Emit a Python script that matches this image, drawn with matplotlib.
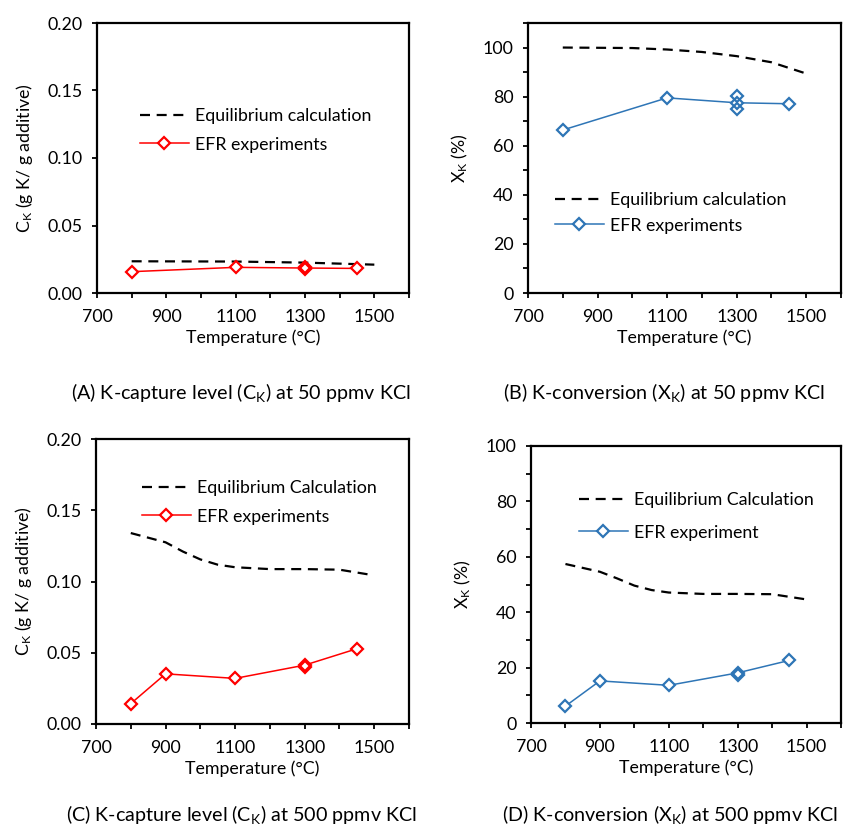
import matplotlib
matplotlib.use("Agg")
import matplotlib.pyplot as plt
from matplotlib.ticker import MultipleLocator, FixedLocator, FormatStrFormatter

plt.rcParams['font.family'] = ['Lato', 'DejaVu Sans']
plt.rcParams['mathtext.fontset'] = 'custom'
plt.rcParams['mathtext.rm'] = 'Lato'
plt.rcParams['mathtext.it'] = 'Lato:italic'

RED = '#ff0000'
BLUE = '#2e75b6'

# ---- data ----
# (A) 50 ppmv, capture level
a_eq_t = [800, 1100, 1300, 1500]
a_eq_c = [0.0235, 0.0233, 0.0225, 0.0210]
a_exp_t = [800, 1100, 1300, 1450]
a_exp_c = [0.0158, 0.0190, 0.0185, 0.0182]
a_rep_t = [1300, 1300]
a_rep_c = [0.0190, 0.0178]

# (B) 50 ppmv, conversion
b_eq_t = [800, 1000, 1100, 1200, 1300, 1400, 1500]
b_eq_x = [100.0, 99.8, 99.2, 98.2, 96.5, 94.0, 89.4]
b_exp_t = [800, 1100, 1300, 1450]
b_exp_x = [66.4, 79.5, 77.5, 77.1]
b_rep_t = [1300, 1300]
b_rep_x = [80.2, 75.0]

# (C) 500 ppmv, capture level
c_eq_t = [800, 900, 950, 1000, 1050, 1100, 1200, 1300, 1400, 1490]
c_eq_c = [0.134, 0.1275, 0.121, 0.1155, 0.1118, 0.1100, 0.1087, 0.1087, 0.1083, 0.1047]
c_exp_t = [800, 900, 1100, 1300, 1450]
c_exp_c = [0.0143, 0.0352, 0.0320, 0.0413, 0.0528]
c_rep_t = [1300]
c_rep_c = [0.0402]

# (D) 500 ppmv, conversion
d_eq_t = [800, 900, 950, 1000, 1050, 1100, 1200, 1300, 1400, 1500]
d_eq_x = [57.4, 54.6, 52.2, 49.6, 48.0, 47.1, 46.6, 46.6, 46.5, 44.6]
d_exp_t = [800, 900, 1100, 1300, 1450]
d_exp_x = [6.1, 15.2, 13.6, 18.1, 22.6]
d_rep_t = [1300]
d_rep_x = [17.5]

x_labels = [700, 900, 1100, 1300, 1500]

W, H = 843, 835
fig = plt.figure(figsize=(W / 100, H / 100), dpi=100)

FS = 12.8


def make_ax(left, right, top, bottom):
    return fig.add_axes([left / W, 1 - bottom / H, (right - left) / W, (bottom - top) / H])


def style(ax, ymax, ymaj, ymin, fmt):
    ax.set_xlim(700, 1600)
    ax.set_ylim(0, ymax)
    ax.xaxis.set_major_locator(FixedLocator(x_labels))
    ax.xaxis.set_minor_locator(MultipleLocator(100))
    ax.yaxis.set_major_locator(MultipleLocator(ymaj))
    ax.yaxis.set_minor_locator(MultipleLocator(ymin))
    ax.yaxis.set_major_formatter(FormatStrFormatter(fmt))
    for s in ax.spines.values():
        s.set_linewidth(1.6)
    ax.tick_params(which='both', direction='out', length=3.5, width=1.3,
                   labelsize=FS, pad=7)
    ax.tick_params(axis='x', which='major', pad=8)
    ax.set_xlabel('Temperature (°C)', fontsize=FS, labelpad=3)


def draw(ax, eq_t, eq_v, ex_t, ex_v, rp_t, rp_v, color, eq_lab, ex_lab):
    ax.plot(eq_t, eq_v, color='black', lw=1.6, dashes=(4.5, 3), label=eq_lab)
    ax.plot(ex_t, ex_v, color=color, lw=1.1, marker='D', ms=6.6, mfc='white',
            mec=color, mew=1.6, label=ex_lab, zorder=3)
    ax.plot(rp_t, rp_v, ls='none', marker='D', ms=6.6, mfc='none',
            mec=color, mew=1.6, zorder=3)


def legend(ax, x, y, spacing):
    ax.legend(loc='upper left', bbox_to_anchor=(x, y), frameon=False,
              fontsize=FS, handlelength=2.75, handletextpad=0.35,
              borderpad=0, borderaxespad=0, labelspacing=spacing)


axA = make_ax(97, 409, 23, 293)
draw(axA, a_eq_t, a_eq_c, a_exp_t, a_exp_c, a_rep_t, a_rep_c, RED,
     'Equilibrium calculation', 'EFR experiments')
style(axA, 0.20, 0.05, 0.05, '%.2f')
axA.set_ylabel(r'C$_\mathregular{K}$ (g K/ g additive)', fontsize=FS, labelpad=9)
legend(axA, 0.137, 0.685, 0.71)

axB = make_ax(528, 841, 23, 293)
draw(axB, b_eq_t, b_eq_x, b_exp_t, b_exp_x, b_rep_t, b_rep_x, BLUE,
     'Equilibrium calculation', 'EFR experiments')
style(axB, 110, 20, 10, '%d')
axB.set_ylabel(r'X$_\mathregular{K}$ (%)', fontsize=FS, labelpad=9)
legend(axB, 0.086, 0.374, 0.54)

axC = make_ax(96, 409, 439, 724)
draw(axC, c_eq_t, c_eq_c, c_exp_t, c_exp_c, c_rep_t, c_rep_c, RED,
     'Equilibrium Calculation', 'EFR experiments')
style(axC, 0.20, 0.05, 0.05, '%.2f')
axC.set_ylabel(r'C$_\mathregular{K}$ (g K/ g additive)', fontsize=FS, labelpad=9)
legend(axC, 0.147, 0.856, 0.71)

axD = make_ax(531, 841, 446, 723)
draw(axD, d_eq_t, d_eq_x, d_exp_t, d_exp_x, d_rep_t, d_rep_x, BLUE,
     'Equilibrium Calculation', 'EFR experiment')
style(axD, 100, 20, 10, '%d')
axD.set_ylabel(r'X$_\mathregular{K}$ (%)', fontsize=FS, labelpad=9)
legend(axD, 0.154, 0.834, 0.94)

caps = [
    (241, 392, r'(A) K-capture level (C$_\mathregular{K}$) at 50 ppmv KCl'),
    (664, 392, r'(B) K-conversion (X$_\mathregular{K}$) at 50 ppmv KCl'),
    (241, 814, r'(C) K-capture level (C$_\mathregular{K}$) at 500 ppmv KCl'),
    (670, 814, r'(D) K-conversion (X$_\mathregular{K}$) at 500 ppmv KCl'),
]
for cx, cy, txt in caps:
    fig.text(cx / W, 1 - cy / H, txt, ha='center', va='center', fontsize=14.2)

fig.savefig('out.png', dpi=100)
